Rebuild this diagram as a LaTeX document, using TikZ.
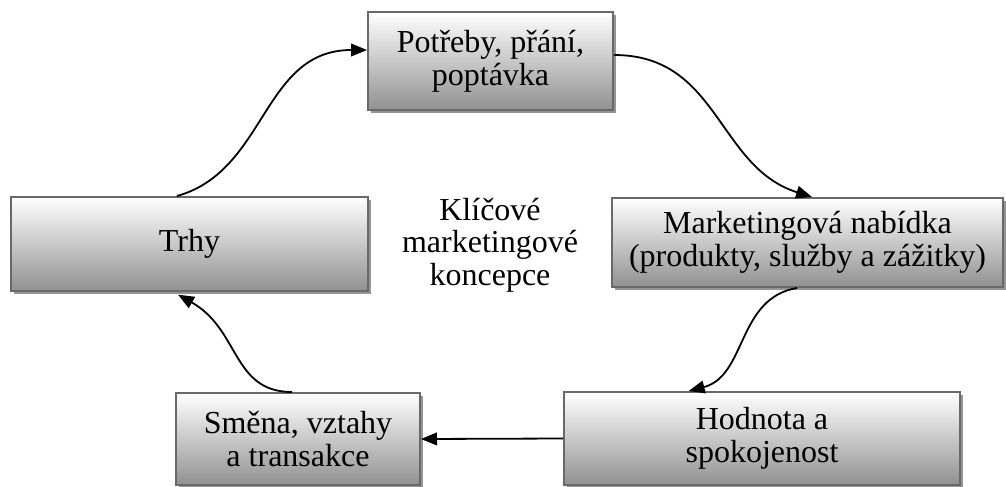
\documentclass[tikz,border=0pt]{standalone}
\usepackage{fontspec}
\setmainfont{Liberation Serif}
\usetikzlibrary{arrows.meta,shadows}
\begin{document}
\begin{tikzpicture}[x=0.75pt,y=-0.75pt,
  box/.style={draw={rgb,255:red,105;green,105;blue,105}, line width=1.5pt,
    top color=white, bottom color={rgb,255:red,145;green,145;blue,145},
    general shadow={shadow xshift=2.6pt, shadow yshift=-2.6pt, fill=black!42},
    align=center, inner sep=0pt,
    font=\fontsize{24pt}{25pt}\selectfont},
  link/.style={line width=1.35pt, -{Triangle[length=12pt,width=9.5pt]}},
  plain/.style={align=center, font=\fontsize{24pt}{24.4pt}\selectfont}]
\useasboundingbox (0,0) rectangle (1006,486);

\node[box, minimum width=245*0.75pt, minimum height=98*0.75pt] (need) at (490.5,61) {Potřeby, přání,\\poptávka};
\node[box, minimum width=357*0.75pt, minimum height=94*0.75pt] (trhy) at (189.5,244) {Trhy};
\node[box, minimum width=391*0.75pt, minimum height=89*0.75pt] (offer) at (807.5,242.5) {Marketingová nabídka\\(produkty, služby a zážitky)};
\node[box, minimum width=244*0.75pt, minimum height=92*0.75pt] (exch) at (298,439) {Směna, vztahy\\a transakce};
\node[box, minimum width=396*0.75pt, minimum height=93*0.75pt] (value) at (762,438.5) {Hodnota a\\spokojenost};
\node[plain] (core) at (490,245) {Klíčové\\marketingové\\koncepce};

% cycle of concepts
\draw[link] ([xshift=-9.4pt]trhy.north) .. controls +(90,-25) and +(-105,0) .. ([yshift=8.25pt]need.west);
\draw[link] ([yshift=4.5pt]need.east) .. controls +(105,0) and +(-95,-30) .. ([xshift=3.4pt]offer.north);
\draw[link] ([xshift=-7.9pt]offer.south) .. controls +(-60,10) and +(58,-15) .. ([xshift=-55pt]value.north);
\draw[link] (value.west) -- (exch.east);
\draw[link] ([xshift=-4.5pt]exch.north) .. controls +(-60,0) and +(62,35) .. ([xshift=-8.6pt,yshift=-2pt]trhy.south);
\end{tikzpicture}
\end{document}
